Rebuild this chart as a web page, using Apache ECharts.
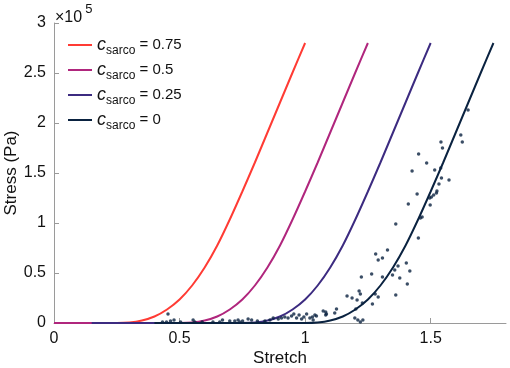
<!DOCTYPE html>
<html>
<head>
<meta charset="utf-8">
<script src="https://cdn.jsdelivr.net/npm/echarts@6/dist/echarts.min.js"></script>
<style>
  html, body { margin: 0; padding: 0; background: #fff; }
  #chart { width: 510px; height: 368px; }
</style>
</head>
<body>
<div id="chart"></div>
<script>
// stress values are in units of 1e5 Pa (axis shows x10^5)
const legendValues = ["0.75", "0.5", "0.25", "0"];
const colors = ["#ff3b34", "#b0267d", "#3c2b80", "#0a2240"];

const stretch075 = [0, 0.25, 0.30, 0.35, 0.40, 0.45, 0.50, 0.55, 0.60, 0.65, 0.70, 0.75, 0.80, 0.85, 0.90, 0.95, 1.00];
const stress075  = [0, 0, 0.005, 0.025, 0.065, 0.135, 0.235, 0.375, 0.555, 0.775, 1.035, 1.315, 1.605, 1.905, 2.205, 2.505, 2.80];

const stretch05 = [0, 0.50, 0.55, 0.60, 0.65, 0.70, 0.75, 0.80, 0.85, 0.90, 0.95, 1.00, 1.05, 1.10, 1.15, 1.20, 1.25];
const stress05  = [0, 0, 0.005, 0.025, 0.065, 0.135, 0.235, 0.375, 0.555, 0.775, 1.035, 1.315, 1.605, 1.905, 2.205, 2.505, 2.80];

const stretch025 = [0.15, 0.75, 0.80, 0.85, 0.90, 0.95, 1.00, 1.05, 1.10, 1.15, 1.20, 1.25, 1.30, 1.35, 1.40, 1.45, 1.50];
const stress025  = [0, 0, 0.005, 0.025, 0.065, 0.135, 0.235, 0.375, 0.555, 0.775, 1.035, 1.315, 1.605, 1.905, 2.205, 2.505, 2.80];

const stretch0 = [0.40, 1.00, 1.05, 1.10, 1.15, 1.20, 1.25, 1.30, 1.35, 1.40, 1.45, 1.50, 1.55, 1.60, 1.65, 1.70, 1.75];
const stress0  = [0, 0, 0.005, 0.025, 0.065, 0.135, 0.235, 0.375, 0.555, 0.775, 1.035, 1.315, 1.605, 1.905, 2.205, 2.505, 2.80];

// experimental points
const expStretch = [
  0.432, 0.448, 0.454, 0.464, 0.478, 0.504, 0.554, 0.561, 0.59, 0.633, 0.66, 0.671, 0.700, 0.720,
  0.733, 0.74, 0.751, 0.773, 0.787, 0.81, 0.84, 0.86, 0.873, 0.893, 0.906, 0.919, 0.932, 0.946,
  0.955, 0.966, 0.976, 0.986, 0.995, 1.006, 1.019, 1.029, 1.032, 1.039, 1.045, 1.072, 1.082, 1.082,
  1.085, 1.118, 1.125, 1.167, 1.187, 1.198, 1.202, 1.207, 1.21, 1.215, 1.22, 1.22, 1.224, 1.228,
  1.23, 1.265, 1.268, 1.279, 1.281, 1.291, 1.291, 1.308, 1.308, 1.328, 1.348, 1.357, 1.361, 1.361,
  1.370, 1.377, 1.403, 1.407, 1.411, 1.417, 1.426, 1.446, 1.451, 1.452, 1.459, 1.466, 1.484, 1.496,
  1.498, 1.503, 1.512, 1.516, 1.523, 1.525, 1.533, 1.540, 1.541, 1.543, 1.547, 1.573, 1.620, 1.626,
  1.649
];
const expStress = [
  0.01, 0.01, 0.09, 0.02, 0.03, 0.01, 0.03, 0.01, 0.01, 0.01, 0.01, 0.03, 0.02, 0.02,
  0.03, 0.01, 0.02, 0.04, 0.03, 0.02, 0.02, 0.03, 0.05, 0.04, 0.05, 0.06, 0.05, 0.07,
  0.09, 0.05, 0.08, 0.04, 0.06, 0.09, 0.05, 0.06, 0.03, 0.08, 0.07, 0.12, 0.11, 0.08,
  0.09, 0.10, 0.14, 0.27, 0.25, 0.05, 0.14, 0.23, 0.03, 0.32, 0.29, 0.01, 0.46, 0.20,
  0.03, 0.49, 0.19, 0.29, 0.69, 0.63, 0.26, 0.65, 0.46, 0.73, 0.48, 0.53, 0.99, 0.28,
  0.57, 0.45, 0.60, 0.39, 1.19, 0.52, 1.52, 1.29, 0.85, 1.69, 1.05, 1.06, 1.60, 1.25,
  1.18, 1.26, 1.28, 1.53, 1.30, 1.32, 1.39, 1.55, 1.81, 1.45, 1.75, 1.43, 1.88, 1.81,
  2.13
];

const xTicks = [0, 0.5, 1, 1.5];

function pairs(xs, ys) {
  return xs.map((x, i) => [x, ys[i]]);
}

const chart = echarts.init(document.getElementById("chart"));

const curveX = [stretch075, stretch05, stretch025, stretch0];
const curveY = [stress075, stress05, stress025, stress0];

const lineSeries = legendValues.map((v, i) => {
  return {
    name: "c_sarco = " + v,
    type: "line",
    data: pairs(curveX[i], curveY[i]),
    showSymbol: false,
    symbol: "none",
    smooth: 0.25,
    lineStyle: { color: colors[i], width: 2 },
    itemStyle: { color: colors[i] },
  };
});

const font = "Liberation Sans";

const option = {
  animation: false,
  textStyle: { fontFamily: font },
  grid: { left: 54, right: 4, top: 23, bottom: 45, outerBoundsMode: "none", containLabel: false },

  legend: {
    data: lineSeries.map((s) => s.name),
    orient: "vertical",
    left: 63,
    top: 31,
    itemWidth: 24,
    itemHeight: 2,
    itemGap: 4,
    icon: "rect",
    formatter: (name) => {
      const v = name.split("= ")[1];
      return "{c|c}{s|sarco}{t| = " + v + "}";
    },
    textStyle: {
      rich: {
        c: { fontFamily: font, fontSize: 18, fontStyle: "italic", color: "#111", verticalAlign: "top", lineHeight: 18, padding: [0, 0, 0, 0] },
        s: { fontFamily: font, fontSize: 12, color: "#111", verticalAlign: "top", lineHeight: 12, padding: [9, 0, 0, 0] },
        t: { fontFamily: font, fontSize: 15, color: "#111", verticalAlign: "top", lineHeight: 17, padding: [1, 0, 0, 0] },
      },
    },
  },

  graphic: [
    {
      type: "text",
      left: 55,
      top: 3,
      style: {
        text: "{a|×10}{b|5}",
        rich: {
          a: { fontFamily: font, fontSize: 16, fill: "#111", verticalAlign: "top", padding: [7, 0, 0, 0] },
          b: { fontFamily: font, fontSize: 13, fill: "#111", verticalAlign: "top", padding: [0, 0, 0, 3] },
        },
      },
    },
  ],

  xAxis: {
    type: "value",
    min: 0,
    max: 1.8,
    interval: 0.5,
    name: "Stretch",
    nameLocation: "middle",
    nameGap: 27,
    nameMoveOverlap: false,
    nameTextStyle: { fontFamily: font, fontSize: 17, color: "#111", verticalAlign: "top" },
    axisLine: { show: true, onZero: false, lineStyle: { color: "#9a9a9a", width: 1 } },
    axisTick: { show: true, inside: true, length: 5, customValues: xTicks, lineStyle: { color: "#9a9a9a" } },
    axisLabel: { customValues: xTicks, margin: 8, fontFamily: font, fontSize: 16, color: "#111" },
    splitLine: { show: false },
  },

  yAxis: {
    type: "value",
    min: 0,
    max: 3,
    interval: 0.5,
    name: "Stress (Pa)",
    nameLocation: "middle",
    nameGap: 34,
    nameMoveOverlap: false,
    nameTextStyle: { fontFamily: font, fontSize: 17, color: "#111" },
    axisLine: { show: true, onZero: false, lineStyle: { color: "#9a9a9a", width: 1 } },
    axisTick: { show: true, inside: true, length: 5, lineStyle: { color: "#9a9a9a" } },
    axisLabel: { margin: 8, fontFamily: font, fontSize: 16, color: "#111" },
    splitLine: { show: false },
  },

  series: [
    ...lineSeries,
    {
      name: "experiment",
      type: "scatter",
      data: pairs(expStretch, expStress),
      symbolSize: 3.5,
      itemStyle: { color: "#0a2240" },
      z: 3,
    },
  ],
};

chart.setOption(option);
</script>
</body>
</html>
